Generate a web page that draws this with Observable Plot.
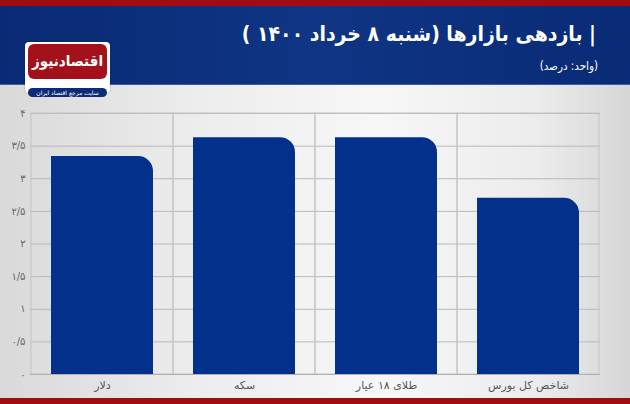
<!DOCTYPE html>
<html><head><meta charset="utf-8">
<script src="https://cdn.jsdelivr.net/npm/d3@7"></script>
<script src="https://cdn.jsdelivr.net/npm/@observablehq/plot@0.6"></script>
<style>
body{margin:0;}
#wrap{position:relative;width:630px;height:404px;overflow:hidden;font-family:"DejaVu Sans",sans-serif;
 background:linear-gradient(90deg,#d9d9d9 0%,#ececec 30%,#f7f7f7 60%,#ececec 85%,#d6d6d6 100%);}
#head{position:absolute;left:0;top:0;width:630px;height:78px;border-top:6px solid #a00c12;
 background:linear-gradient(90deg,#0a2a74 0%,#0f3584 50%,#0a2b76 100%);border-bottom:1px solid #3d5da0;}
#title{position:absolute;right:34px;top:22px;direction:rtl;color:#fff;font-weight:bold;font-size:21px;white-space:nowrap;
 font-family:"DejaVu Sans Condensed","DejaVu Sans",sans-serif;}
#sub{position:absolute;right:32px;top:59px;direction:rtl;color:#fff;font-size:11.5px;white-space:nowrap;
 font-family:"DejaVu Sans Condensed","DejaVu Sans",sans-serif;}
#logo{position:absolute;left:25px;top:42px;width:85px;height:51px;background:#fff;border-radius:4px;box-shadow:0 0 2px rgba(0,0,0,.3);}
#logored{position:absolute;left:3px;top:2px;width:79px;height:35px;background:#a3121b;border-radius:6px;color:#fff;
 font-weight:bold;font-size:15px;text-align:center;line-height:34px;direction:rtl;white-space:nowrap;
 font-family:"DejaVu Sans Condensed","DejaVu Sans",sans-serif;}
#pill{position:absolute;left:3px;top:46px;width:79px;height:9px;background:#0d2c78;border-radius:5px;color:#fff;
 font-size:6px;text-align:center;line-height:9px;direction:rtl;white-space:nowrap;}
#chart{position:absolute;left:0;top:100px;}
#foot{position:absolute;left:0;top:398px;width:630px;height:6px;background:#a00c12;}
</style></head>
<body><div id="wrap">
<div id="head"></div>
<div id="title">| بازدهی بازارها (شنبه ۸ خرداد ۱۴۰۰ )</div>
<div id="sub">(واحد: درصد)</div>
<div id="logo"><div id="logored">اقتصادنیوز</div><div id="pill">سایت مرجع اقتصاد ایران</div></div>
<div id="chart"></div>
<div id="foot"></div>
</div>
<script>
const categories = ["دلار", "سکه", "طلای ۱۸ عیار", "شاخص کل بورس"];
const values = [3.34, 3.63, 3.63, 2.70];
const yTicks = [0, 0.5, 1, 1.5, 2, 2.5, 3, 3.5, 4];

const faDigits = "۰۱۲۳۴۵۶۷۸۹";
const fa = v => String(v).replace(/\d/g, d => faDigits[+d]).replace(".", "/");

const data = categories.map((c, i) => ({cat: c, value: values[i]}));
const BAR = "#03308a";

const svg = Plot.plot({
  width: 630, height: 298,
  marginTop: 13, marginBottom: 24, marginLeft: 30, marginRight: 30,
  style: {background: "transparent", fontFamily: "DejaVu Sans, sans-serif", color: "#555"},
  x: {domain: categories, padding: 0, label: null},
  y: {domain: [0, 4], label: null},
  marks: [
    Plot.ruleY(yTicks, {stroke: "#b8b8b8"}),
    Plot.barY(categories, {x: d => d, y1: 0, y2: 4, fill: "none", stroke: "#c4c4c4"}),
    Plot.ruleY([0], {stroke: "#b0b0b0"}),
    Plot.barY(data, {x: "cat", y: "value", fill: BAR, insetLeft: 20, insetRight: 20}),
    Plot.axisX({tickSize: 0, tickPadding: 7, fontSize: 11, fill: "#555", label: null}),
    Plot.axisY({ticks: yTicks, tickFormat: fa, tickSize: 0, tickPadding: 5, fontSize: 10, fill: "#666", label: null})
  ]
});

// round the top-right corner of data bars
d3.select(svg).selectAll("g").filter(function(){ return this.getAttribute("fill") === BAR; })
  .selectAll("rect").each(function(){
    const x = +this.getAttribute("x"), y = +this.getAttribute("y");
    const w = +this.getAttribute("width"), h = +this.getAttribute("height");
    const r = 15;
    const p = document.createElementNS("http://www.w3.org/2000/svg", "path");
    p.setAttribute("d", `M${x},${y+h}V${y}H${x+w-r}A${r},${r} 0 0 1 ${x+w},${y+r}V${y+h}Z`);
    this.replaceWith(p);
  });

document.getElementById("chart").appendChild(svg);
</script>
</body></html>
